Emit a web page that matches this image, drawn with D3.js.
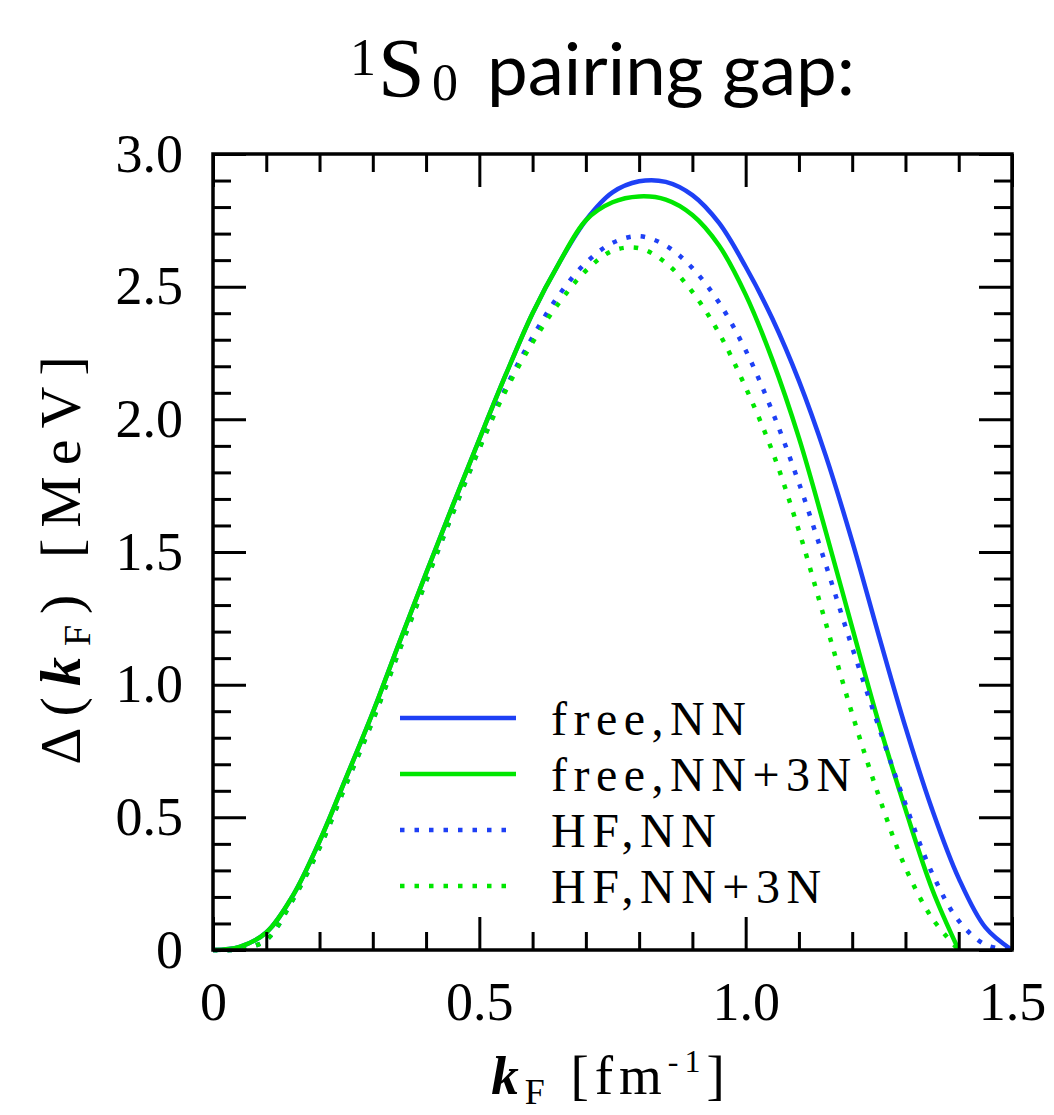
<!DOCTYPE html>
<html>
<head>
<meta charset="utf-8">
<script src="https://cdn.jsdelivr.net/npm/d3@7"></script>
<style>
  body { margin: 0; background: #fff; }
  svg { display: block; }
</style>
</head>
<body>
<svg id="chart" width="1054" height="1115"></svg>
<script>
// Fermi momentum grid [fm^-1]
const kF = [0, 0.05, 0.10, 0.15, 0.20, 0.25, 0.30, 0.35, 0.40, 0.45, 0.50, 0.55, 0.60, 0.65, 0.70, 0.75,
            0.80, 0.85, 0.90, 0.95, 1.00, 1.05, 1.10, 1.15, 1.20, 1.25, 1.30, 1.35, 1.40, 1.45, 1.50];

// 1S0 gap Delta(kF) in MeV; null where the gap has closed
const gapFreeNN   = [0, 0.012, 0.066, 0.205, 0.41, 0.65, 0.895, 1.16, 1.42, 1.675, 1.925, 2.17, 2.40, 2.59, 2.75, 2.855,
                     2.897, 2.895, 2.845, 2.74, 2.575, 2.38, 2.145, 1.865, 1.54, 1.185, 0.84, 0.53, 0.27, 0.085, 0];
const gapFreeNN3N = [0, 0.012, 0.066, 0.205, 0.41, 0.65, 0.895, 1.16, 1.42, 1.675, 1.925, 2.17, 2.40, 2.59, 2.75, 2.818,
                     2.84, 2.828, 2.77, 2.655, 2.47, 2.225, 1.93, 1.58, 1.215, 0.855, 0.53, 0.23, 0, null, null];
const gapHFNN     = [0, 0.003, 0.038, 0.19, 0.385, 0.625, 0.865, 1.13, 1.39, 1.645, 1.89, 2.12, 2.31, 2.47, 2.59, 2.665,
                     2.69, 2.655, 2.57, 2.44, 2.26, 2.03, 1.76, 1.455, 1.14, 0.84, 0.55, 0.29, 0.11, 0.02, 0];
const gapHFNN3N   = [0, 0.003, 0.038, 0.19, 0.385, 0.625, 0.865, 1.13, 1.39, 1.645, 1.89, 2.11, 2.29, 2.44, 2.56, 2.635,
                     2.645, 2.59, 2.48, 2.325, 2.12, 1.88, 1.58, 1.235, 0.89, 0.58, 0.31, 0.12, 0, null, null];

const seriesNames = ["free,NN", "free,NN+3N", "HF,NN", "HF,NN+3N"];

// axis ticks
const xMajorTicks = [0, 0.5, 1.0, 1.5];
const xTickLabels = ["0", "0.5", "1.0", "1.5"];
const yMajorTicks = [0, 0.5, 1.0, 1.5, 2.0, 2.5, 3.0];
const yTickLabels = ["0", "0.5", "1.0", "1.5", "2.0", "2.5", "3.0"];

const BLUE = "#1e40f5";
const GREEN = "#00e600";

const series = [
  { name: seriesNames[0], values: gapFreeNN,   color: BLUE,  dotted: false },
  { name: seriesNames[1], values: gapFreeNN3N, color: GREEN, dotted: false },
  { name: seriesNames[2], values: gapHFNN,     color: BLUE,  dotted: true },
  { name: seriesNames[3], values: gapHFNN3N,   color: GREEN, dotted: true }
];

const svg = d3.select("#chart");
const plot = { left: 213, right: 1012, top: 154, bottom: 950 };

const x = d3.scaleLinear().domain([0, 1.5]).range([plot.left, plot.right]);
const y = d3.scaleLinear().domain([0, 3.0]).range([plot.bottom, plot.top]);

const serif = "'Liberation Serif', 'DejaVu Serif', serif";

// ---- curves ----
const line = d3.line()
  .defined(d => d[1] !== null)
  .x(d => x(d[0]))
  .y(d => y(d[1]))
  .curve(d3.curveCatmullRom.alpha(0.5));

const curves = svg.append("g");
series.forEach(s => {
  curves.append("path")
    .datum(kF.map((k, i) => [k, s.values[i]]))
    .attr("fill", "none")
    .attr("stroke", s.color)
    .attr("stroke-width", 4.5)
    .attr("stroke-dasharray", s.dotted ? "4.5,10" : null)
    .attr("d", line);
});

// ---- ticks on all four sides, pointing inward ----
const xMinor = d3.range(0, 16).map(i => i / 10).filter(v => !xMajorTicks.some(m => Math.abs(m - v) < 1e-9));
const yMinor = d3.range(0, 31).map(i => i / 10).filter(v => !yMajorTicks.some(m => Math.abs(m - v) < 1e-9));

function tickAxis(axis, values, size, transform) {
  const g = svg.append("g")
    .attr("transform", transform)
    .call(axis.tickValues(values).tickSizeInner(-size).tickSizeOuter(0).tickFormat(""));
  g.select(".domain").remove();
  g.selectAll(".tick line").attr("stroke", "#000").attr("stroke-width", 3);
  return g;
}

tickAxis(d3.axisBottom(x), xMinor, 18, `translate(0,${plot.bottom})`);
tickAxis(d3.axisTop(x), xMinor, 18, `translate(0,${plot.top})`);
tickAxis(d3.axisLeft(y), yMinor, 18, `translate(${plot.left},0)`);
tickAxis(d3.axisRight(y), yMinor, 18, `translate(${plot.right},0)`);
tickAxis(d3.axisTop(x), xMajorTicks, 33, `translate(0,${plot.top})`);
tickAxis(d3.axisRight(y), yMajorTicks, 33, `translate(${plot.right},0)`);

// labelled major ticks
const xAxis = svg.append("g")
  .attr("transform", `translate(0,${plot.bottom})`)
  .call(d3.axisBottom(x).tickValues(xMajorTicks).tickSizeInner(-33).tickSizeOuter(0)
        .tickPadding(32).tickFormat((d, i) => xTickLabels[i]));
xAxis.select(".domain").remove();
xAxis.selectAll(".tick line").attr("stroke", "#000").attr("stroke-width", 3);
xAxis.selectAll(".tick text").attr("font-family", serif).attr("font-size", 54).attr("fill", "#000");

const yAxis = svg.append("g")
  .attr("transform", `translate(${plot.left},0)`)
  .call(d3.axisLeft(y).tickValues(yMajorTicks).tickSizeInner(-33).tickSizeOuter(0)
        .tickPadding(30).tickFormat((d, i) => yTickLabels[i]));
yAxis.select(".domain").remove();
yAxis.selectAll(".tick line").attr("stroke", "#000").attr("stroke-width", 3);
yAxis.selectAll(".tick text").attr("font-family", serif).attr("font-size", 54).attr("fill", "#000");

// frame
svg.append("rect")
  .attr("x", plot.left).attr("y", plot.top)
  .attr("width", plot.right - plot.left).attr("height", plot.bottom - plot.top)
  .attr("fill", "none").attr("stroke", "#000").attr("stroke-width", 3.5);

// ---- legend ----
const legend = svg.append("g");
series.forEach((s, i) => {
  const ly = 718 + i * 56;
  legend.append("line")
    .attr("x1", 400).attr("x2", 516).attr("y1", ly).attr("y2", ly)
    .attr("stroke", s.color).attr("stroke-width", 4.5)
    .attr("stroke-dasharray", s.dotted ? "4.5,10" : null);
  legend.append("text")
    .attr("x", 551).attr("y", ly + 17)
    .attr("font-family", serif).attr("font-size", 48)
    .attr("letter-spacing", 6.5)
    .text(s.name);
});

// ---- title ----
const title = svg.append("g");
title.append("text").attr("x", 350).attr("y", 75)
  .attr("font-family", serif).attr("font-size", 52).text("1");
title.append("text").attr("x", 378).attr("y", 97)
  .attr("font-family", serif).attr("font-size", 84).text("S");
title.append("text").attr("x", 432).attr("y", 100)
  .attr("font-family", serif).attr("font-size", 52).text("0");
title.append("text").attr("x", 487).attr("y", 95)
  .attr("font-family", "Lato, 'Open Sans', sans-serif").attr("font-size", 72)
  .attr("textLength", 368).attr("lengthAdjust", "spacingAndGlyphs")
  .text("pairing gap:");

// ---- axis titles ----
const yLabel = svg.append("text")
  .attr("transform", `translate(80,${(plot.top + plot.bottom) / 2 + 3}) rotate(-90)`)
  .attr("text-anchor", "middle")
  .attr("font-family", serif).attr("font-size", 58).attr("letter-spacing", 11);
yLabel.append("tspan").text("Δ(");
yLabel.append("tspan").attr("font-style", "italic").attr("font-weight", "bold").text("k");
yLabel.append("tspan").attr("font-size", 38).attr("dy", 10).text("F");
yLabel.append("tspan").attr("dy", -10).text(") [MeV]");

const xLabel = svg.append("text")
  .attr("x", 611).attr("y", 1094)
  .attr("text-anchor", "middle")
  .attr("font-family", serif).attr("font-size", 55).attr("letter-spacing", 6);
xLabel.append("tspan").attr("font-style", "italic").attr("font-weight", "bold").text("k");
xLabel.append("tspan").attr("font-size", 36).attr("dy", 10).text("F");
xLabel.append("tspan").attr("dy", -10).text(" [fm");
xLabel.append("tspan").attr("font-size", 32).attr("dy", -22).text("-1");
xLabel.append("tspan").attr("dy", 22).text("]");
</script>
</body>
</html>
